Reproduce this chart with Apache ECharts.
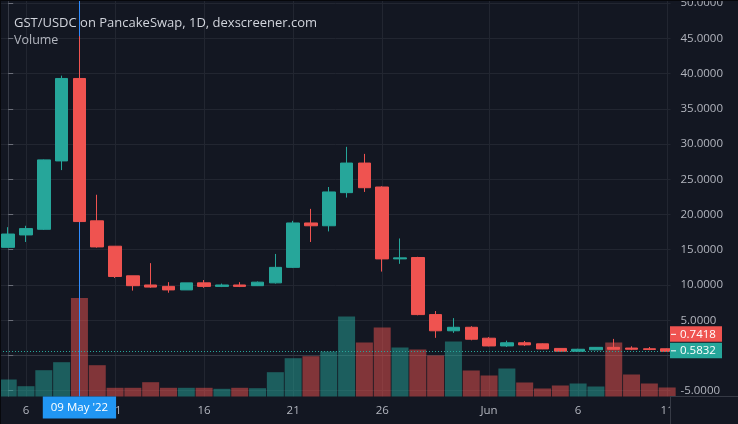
<!DOCTYPE html>
<html>
<head>
<meta charset="utf-8">
<script src="https://cdn.jsdelivr.net/npm/echarts@6/dist/echarts.min.js"></script>
<style>
html,body{margin:0;padding:0;background:#131722;}
#c{width:738px;height:424px;}
</style>
</head>
<body>
<div id="c"></div>
<script>
// ---- data ----
const dates = [
  '2022-05-05','2022-05-06','2022-05-07','2022-05-08','2022-05-09','2022-05-10','2022-05-11','2022-05-12',
  '2022-05-13','2022-05-14','2022-05-15','2022-05-16','2022-05-17','2022-05-18','2022-05-19','2022-05-20',
  '2022-05-21','2022-05-22','2022-05-23','2022-05-24','2022-05-25','2022-05-26','2022-05-27','2022-05-28',
  '2022-05-29','2022-05-30','2022-05-31','2022-06-01','2022-06-02','2022-06-03','2022-06-04','2022-06-05',
  '2022-06-06','2022-06-07','2022-06-08','2022-06-09','2022-06-10','2022-06-11'
];
const opens  = [15.34,17.1,17.9,27.6,39.3,19.1,15.5,11.3,10.0,9.8,9.3,10.3,9.8,10.0,9.9,10.3,12.5,18.8,18.4,23.1,27.3,23.9,13.7,13.9,5.8,3.5,4.0,2.45,1.35,1.8,1.65,1.0,0.6,0.8,1.15,1.05,0.95,0.95];
const closes = [17.23,18.0,27.75,39.3,19.0,15.4,11.2,9.9,9.7,9.3,10.3,9.8,10.0,9.8,10.4,12.5,18.8,18.4,23.2,27.3,23.8,13.7,13.85,5.8,3.5,4.0,2.3,1.35,1.8,1.5,0.93,0.6,0.88,1.15,0.88,0.88,0.85,0.58];
const lows   = [15.3,16.1,17.8,26.3,18.9,15.3,11.0,9.2,9.6,8.9,9.3,9.6,9.7,9.7,9.85,10.2,12.4,16.1,17.6,22.4,23.2,11.9,13.0,5.7,2.5,3.2,2.15,1.3,1.2,1.35,0.9,0.55,0.55,0.75,0.85,0.75,0.75,0.55];
const highs  = [18.2,18.4,27.8,39.7,45.3,22.8,15.5,11.3,13.1,10.4,10.3,10.7,10.2,10.4,10.5,14.4,19.1,20.8,23.9,29.6,28.6,24.0,16.6,14.0,6.3,5.3,4.15,2.6,2.1,2.05,1.7,1.05,0.95,1.2,2.35,1.3,1.2,1.0];
const volumes = [170,103,263,343,985,313,87,87,143,87,87,87,77,87,83,243,383,403,450,800,540,690,490,470,410,550,260,210,280,140,80,110,130,100,540,220,130,90];

const xTickDates  = ['2022-05-06','2022-05-11','2022-05-16','2022-05-21','2022-05-26','2022-06-01','2022-06-06','2022-06-11'];
const xTickLabels = ['6','11','16','21','26','Jun','6','11'];
const priceTicks  = [-5,0,5,10,15,20,25,30,35,40,45,50];
const priceLabelTicks = [-5,5,10,15,20,25,30,35,40,45,50];
const crosshairDate = '2022-05-09';
const lastPrice = 0.7418;
const linePrice = 0.5832;
const titleText = 'GST/USDC on PancakeSwap, 1D, dexscreener.com';
const subTitleText = 'Volume';

// ---- styling ----
const BG = '#131722', UP = '#26a69a', DOWN = '#ef5350';
const UPV = 'rgba(38,166,154,0.5)', DOWNV = 'rgba(239,83,80,0.5)';
const FONT = 'Open Sans';
const LABEL = '#b2b5be';
const GRIDL = '#222631';
const AXISL = '#363a45';
const CROSS = '#2f8cff';

const xTickIdx = xTickDates.map(d => dates.indexOf(d));
const crossIdx = dates.indexOf(crosshairDate);
const MONTHS = ['Jan','Feb','Mar','Apr','May','Jun','Jul','Aug','Sep','Oct','Nov','Dec'];
function fmtDate(s){ const p = s.split('-'); return p[2] + ' ' + MONTHS[+p[1]-1] + " '" + p[0].slice(2); }

const candleData = dates.map((d,i) => [i, opens[i], closes[i], lows[i], highs[i]]);
const volData = dates.map((d,i) => ({ value: [i, volumes[i]], itemStyle: { color: closes[i] >= opens[i] ? UPV : DOWNV } }));

const chart = echarts.init(document.getElementById('c'), null, { renderer: 'canvas' });
const option = {
  backgroundColor: BG,
  animation: false,
  textStyle: { fontFamily: FONT },
  title: [
    { text: titleText, left: 9, top: 12, textStyle: { color: '#d1d4dc', fontSize: 13, fontWeight: 'normal', fontFamily: FONT } },
    { text: subTitleText, left: 9, top: 29, textStyle: { color: LABEL, fontSize: 12.5, fontWeight: 'normal', fontFamily: FONT } }
  ],
  grid: { left: 0, right: 67.5, top: 0, bottom: 27.5, containLabel: false, outerBoundsMode: 'none' },
  xAxis: {
    type: 'value',
    min: -0.4604, max: 37.187,
    axisLine: { show: true, lineStyle: { color: AXISL } },
    axisTick: { show: false, customValues: xTickIdx },
    axisLabel: {
      customValues: xTickIdx, color: LABEL, fontSize: 11.5, fontFamily: FONT, margin: 8,
      formatter: v => xTickLabels[xTickIdx.indexOf(Math.round(v))]
    },
    splitLine: { show: true, lineStyle: { color: GRIDL } }
  },
  yAxis: [
    {
      type: 'value', position: 'right', min: -5.823, max: 50.434,
      axisLine: { show: true, lineStyle: { color: AXISL } },
      axisTick: { show: true, length: 5, customValues: priceTicks, lineStyle: { color: '#6b6e79' } },
      axisLabel: { customValues: priceLabelTicks, color: LABEL, fontSize: 11.5, fontFamily: FONT, margin: 10,
        formatter: v => v.toFixed(4) },
      splitLine: { show: true, lineStyle: { color: GRIDL } }
    },
    { type: 'value', min: 0, max: 3965, show: false, splitLine: { show: false } }
  ],
  series: [
    {
      type: 'bar', name: 'Volume', xAxisIndex: 0, yAxisIndex: 1, z: 1,
      barWidth: 17, data: volData, silent: true
    },
    {
      type: 'line', name: 'crosshair', xAxisIndex: 0, yAxisIndex: 0, z: 2, silent: true,
      data: [], symbol: 'none',
      markLine: {
        z: 2, silent: true, symbol: ['none','none'],
        lineStyle: { color: CROSS, width: 1, type: 'solid', opacity: 1 },
        emphasis: { disabled: true },
        label: {
          show: true, position: 'start', distance: 0, formatter: () => fmtDate(crosshairDate),
          backgroundColor: '#2196f3', color: '#fff', fontSize: 11.5, fontFamily: FONT,
          padding: [5, 8, 5, 8], borderRadius: 0
        },
        data: [{ xAxis: crossIdx }]
      }
    },
    {
      type: 'candlestick', name: 'GST/USDC', xAxisIndex: 0, yAxisIndex: 0, z: 3,
      barWidth: 13, data: candleData, silent: true,
      itemStyle: { color: UP, color0: DOWN, borderColor: UP, borderColor0: DOWN, borderWidth: 1 },
      markLine: {
        z: 4, silent: true, symbol: ['none','none'], label: { show: false },
        lineStyle: { color: UP, width: 1, type: [1, 2], opacity: 1 },
        data: [{ yAxis: linePrice }]
      }
    }
  ]
};
chart.setOption(option);

// price tags on the right axis
const py = chart.convertToPixel({ yAxisIndex: 0 }, linePrice);
function tag(y, bg, txt){
  return [
    { type: 'rect', z: 100, shape: { x: 670, y: y, width: 52, height: 15.5 }, style: { fill: bg } },
    { type: 'line', z: 101, shape: { x1: 671, y1: y + 8, x2: 676, y2: y + 8 }, style: { stroke: '#ffffff', lineWidth: 1 } },
    { type: 'text', z: 101, x: 680, y: y + 8, style: { text: txt, fill: '#ffffff', font: '11.5px "Open Sans"', verticalAlign: 'middle', align: 'left' } }
  ];
}
chart.setOption({
  graphic: [
    { type: 'rect', z: 100, shape: { x: 671, y: 397.5, width: 67, height: 27 }, style: { fill: BG } },
    { type: 'line', z: 101, shape: { x1: 670.5, y1: 396, x2: 670.5, y2: 424 }, style: { stroke: AXISL, lineWidth: 1 } },
    { type: 'line', z: 101, shape: { x1: 670, y1: 396.5, x2: 738, y2: 396.5 }, style: { stroke: AXISL, lineWidth: 1 } },
    { type: 'line', z: 102, shape: { x1: 0, y1: 0.5, x2: 738, y2: 0.5 }, style: { stroke: '#07080c', lineWidth: 1 } },
    { type: 'line', z: 102, shape: { x1: 0.5, y1: 0, x2: 0.5, y2: 424 }, style: { stroke: '#07080c', lineWidth: 1 } }
  ].concat(tag(py - 25, DOWN, lastPrice.toFixed(4)), tag(py - 8.5, UP, linePrice.toFixed(4)))
});
</script>
</body>
</html>
